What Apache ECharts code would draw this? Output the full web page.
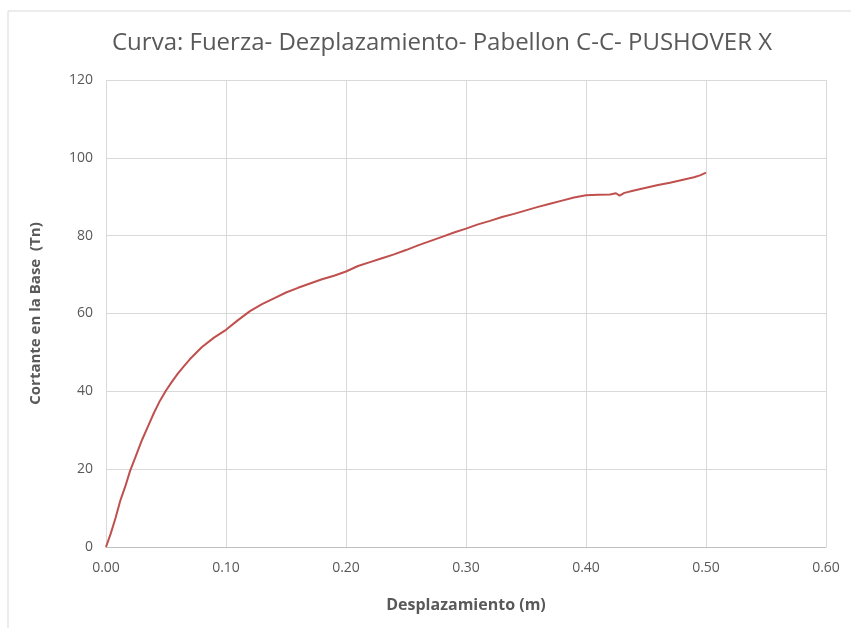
<!DOCTYPE html>
<html>
<head>
<meta charset="utf-8">
<script src="https://cdn.jsdelivr.net/npm/echarts@6/dist/echarts.min.js"></script>
<style>html,body{margin:0;padding:0;background:#fff;}#c{width:851px;height:628px;}</style>
</head>
<body>
<div id="c"></div>
<script>
const titleText = "Curva: Fuerza- Dezplazamiento- Pabellon C-C- PUSHOVER X";
const xAxisName = "Desplazamiento (m)";
const yAxisName = "Cortante en la Base  (Tn)";
const displacement = [0, 0.004, 0.008, 0.012, 0.016, 0.020, 0.025, 0.030, 0.035, 0.040, 0.045, 0.050, 0.055, 0.060, 0.065, 0.070, 0.080, 0.090, 0.100, 0.110, 0.120, 0.130, 0.140, 0.150, 0.160, 0.170, 0.180, 0.190, 0.200, 0.210, 0.220, 0.230, 0.240, 0.250, 0.260, 0.270, 0.280, 0.290, 0.300, 0.310, 0.320, 0.330, 0.340, 0.350, 0.360, 0.370, 0.380, 0.390, 0.400, 0.410, 0.420, 0.425, 0.428, 0.432, 0.440, 0.450, 0.460, 0.470, 0.480, 0.490, 0.495, 0.500];
const shear = [0, 3.5, 7.5, 12, 15.5, 19.5, 23.5, 27.5, 31, 34.5, 37.6, 40.2, 42.5, 44.6, 46.5, 48.3, 51.4, 53.8, 55.8, 58.3, 60.6, 62.4, 63.9, 65.4, 66.6, 67.7, 68.8, 69.7, 70.8, 72.2, 73.2, 74.2, 75.2, 76.3, 77.5, 78.6, 79.7, 80.8, 81.8, 82.9, 83.8, 84.8, 85.6, 86.5, 87.4, 88.2, 89.0, 89.8, 90.4, 90.5, 90.6, 90.9, 90.3, 91.0, 91.6, 92.3, 93.0, 93.6, 94.3, 95.0, 95.5, 96.2];

const chart = echarts.init(document.getElementById('c'));
const font = "'Open Sans', 'Noto Sans', sans-serif";
chart.setOption({
  animation: false,
  backgroundColor: '#ffffff',
  title: {
    text: titleText, left: 107, top: 26,
    textStyle: {fontFamily: font, fontSize: 24, fontWeight: 'normal', color: '#595959'}
  },
  graphic: [{
    type: 'rect', shape: {x: 8, y: 11, width: 860, height: 640},
    style: {fill: 'none', stroke: '#d9d9d9', lineWidth: 1}, silent: true
  }],
  grid: {left: 106, right: 25, top: 80, bottom: 81, containLabel: false},
  xAxis: {
    type: 'value', min: 0, max: 0.6, interval: 0.1,
    name: xAxisName, nameLocation: 'middle', nameGap: 50,
    nameTextStyle: {fontFamily: font, fontSize: 16, fontWeight: 'bold', color: '#595959'},
    axisLine: {show: true, lineStyle: {color: '#bfbfbf'}},
    axisTick: {show: false},
    axisLabel: {formatter: v => v.toFixed(2), color: '#595959', fontFamily: font, fontSize: 14, margin: 14},
    splitLine: {show: true, lineStyle: {color: '#d9d9d9'}}
  },
  yAxis: {
    type: 'value', min: 0, max: 120, interval: 20,
    name: yAxisName, nameLocation: 'middle', nameGap: 63, nameRotate: 90,
    nameTextStyle: {fontFamily: font, fontSize: 15, fontWeight: 'bold', color: '#595959'},
    axisLine: {show: false},
    axisTick: {show: false},
    axisLabel: {color: '#595959', fontFamily: font, fontSize: 14, margin: 13},
    splitLine: {show: true, lineStyle: {color: '#d9d9d9'}}
  },
  series: [{
    type: 'line',
    data: displacement.map((x, i) => [x, shear[i]]),
    showSymbol: false,
    smooth: false,
    lineStyle: {color: '#c0504d', width: 2},
    itemStyle: {color: '#c0504d'}
  }]
});
</script>
</body>
</html>
